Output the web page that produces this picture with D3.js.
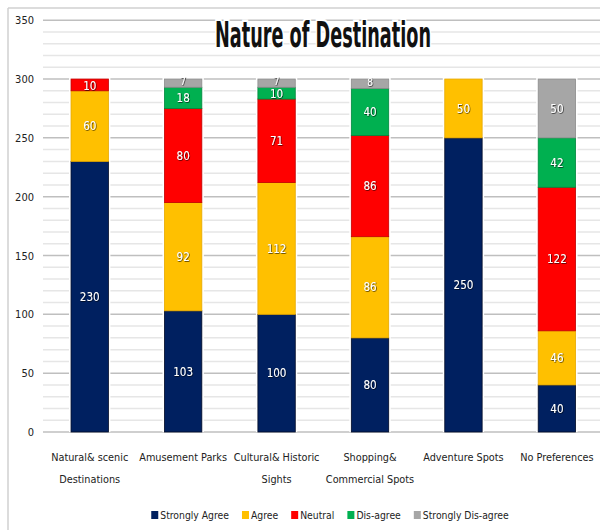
<!DOCTYPE html>
<html>
<head>
<meta charset="utf-8">
<script src="https://cdn.jsdelivr.net/npm/d3@7"></script>
<style>
  html, body { margin: 0; padding: 0; background: #fff; }
  svg { display: block; }
  text { font-family: 'DejaVu Sans Condensed', 'Liberation Sans', Arial, sans-serif; font-stretch: condensed; }
</style>
</head>
<body>
<div id="chart"></div>
<script>
  // data
  var categories = [
    ['Natural& scenic', 'Destinations'],
    ['Amusement Parks'],
    ['Cultural& Historic', 'Sights'],
    ['Shopping&', 'Commercial Spots'],
    ['Adventure Spots'],
    ['No Preferences']
  ];
  var seriesNames = ['Strongly Agree', 'Agree', 'Neutral', 'Dis-agree', 'Strongly Dis-agree'];
  var stronglyAgree = [230, 103, 100, 80, 250, 40];
  var agree = [60, 92, 112, 86, 50, 46];
  var neutral = [10, 80, 71, 86, 0, 122];
  var disagree = [0, 18, 10, 40, 0, 42];
  var stronglyDisagree = [0, 7, 7, 8, 0, 50];
  var yTicks = [0, 50, 100, 150, 200, 250, 300, 350];
  var colors = ['#002060', '#ffc000', '#ff0000', '#00b050', '#a6a6a6'];
  var edges = ['#000a26', '#e6a800', '#c00000', '#00873d', '#8c8c8c'];

  var W = 600, H = 530;
  var svg = d3.select('#chart').append('svg').attr('width', W).attr('height', H);

  var defs = svg.append('defs');
  var f = defs.append('filter').attr('id', 'shadow').attr('x', '-30%').attr('y', '-30%')
    .attr('width', '160%').attr('height', '160%');
  f.append('feDropShadow').attr('dx', 0.6).attr('dy', 0.6).attr('stdDeviation', 0.7)
    .attr('flood-color', '#000').attr('flood-opacity', 0.9);

  // outer frame
  svg.append('line').attr('x1', 8).attr('x2', 8).attr('y1', 8).attr('y2', H)
    .attr('stroke', '#d0d0d0').attr('stroke-width', 1.5);
  svg.append('line').attr('x1', 8).attr('x2', W).attr('y1', 8).attr('y2', 8)
    .attr('stroke', '#d0d0d0').attr('stroke-width', 1.5);

  var keys = categories.map(function (c) { return c.join(' '); });
  var rows = keys.map(function (k, i) {
    return {
      key: k,
      'Strongly Agree': stronglyAgree[i],
      'Agree': agree[i],
      'Neutral': neutral[i],
      'Dis-agree': disagree[i],
      'Strongly Dis-agree': stronglyDisagree[i]
    };
  });

  var x = d3.scaleBand().domain(keys).range([43, 603.6]).paddingInner(0.6).paddingOuter(0.3);
  var y = d3.scaleLinear().domain([0, 350]).range([432, 20.2]);

  // gridlines: minor every 10, major every 50
  var minor = d3.range(10, 351, 10).filter(function (v) { return v % 50 !== 0; });
  svg.append('g').selectAll('line').data(minor).join('line')
    .attr('x1', 43).attr('x2', W)
    .attr('y1', function (d) { return y(d); }).attr('y2', function (d) { return y(d); })
    .attr('stroke', '#e6e6e6').attr('stroke-width', 1.5);
  svg.append('g').selectAll('line').data(yTicks).join('line')
    .attr('x1', 43).attr('x2', W)
    .attr('y1', function (d) { return y(d); }).attr('y2', function (d) { return y(d); })
    .attr('stroke', '#bfbfbf').attr('stroke-width', 1.5);

  // y axis labels
  var yAxis = svg.append('g').attr('transform', 'translate(34,0)')
    .call(d3.axisLeft(y).tickValues(yTicks).tickSize(0).tickPadding(0));
  yAxis.select('.domain').remove();
  yAxis.selectAll('text').attr('font-size', '11px').attr('fill', '#222')
    .style('font-family', "'DejaVu Sans Condensed', 'Liberation Sans', Arial, sans-serif");

  var stack = d3.stack().keys(seriesNames)(rows);

  // white halo behind each bar (gridlines break at bars)
  svg.append('g').selectAll('rect').data(rows).join('rect')
    .attr('x', function (d) { return x(d.key) - 2; })
    .attr('width', x.bandwidth() + 4)
    .attr('y', y(300) - 1)
    .attr('height', y(0) - y(300) + 1)
    .attr('fill', '#fff');

  var layers = svg.append('g').selectAll('g').data(stack).join('g');
  layers.selectAll('rect')
    .data(function (s, si) { return s.map(function (d) { return { d: d, si: si }; }); })
    .join('rect')
    .attr('x', function (p) { return x(p.d.data.key); })
    .attr('width', x.bandwidth())
    .attr('y', function (p) { return y(p.d[1]); })
    .attr('height', function (p) { return y(p.d[0]) - y(p.d[1]); })
    .attr('fill', function (p) { return colors[p.si]; })
    .attr('stroke', function (p) { return p.d[1] - p.d[0] > 0 ? edges[p.si] : 'none'; })
    .attr('stroke-width', 0.8);

  // value labels (tiny top segments nudged up a little, as in the original)
  layers.selectAll('text')
    .data(function (s) { return s.filter(function (d) { return d[1] - d[0] > 0; }); })
    .join('text')
    .attr('x', function (d) { return x(d.data.key) + x.bandwidth() / 2; })
    .attr('y', function (d) {
      var mid = (y(d[0]) + y(d[1])) / 2;
      var v = d[1] - d[0];
      if (v < 10) return mid - 1.5;
      if (v <= 12) return mid + 1;
      return mid;
    })
    .attr('dy', '0.36em')
    .attr('text-anchor', 'middle')
    .attr('font-size', function (d) { return d[1] - d[0] < 10 ? '10px' : '11.5px'; })
    .attr('fill', '#fff')
    .attr('filter', 'url(#shadow)')
    .text(function (d) { return d[1] - d[0]; });

  // category labels
  var cat = svg.append('g').selectAll('text').data(categories).join('text')
    .attr('text-anchor', 'middle')
    .attr('font-size', '10.8px')
    .attr('fill', '#222')
    .attr('x', function (d) { return x(d.join(' ')) + x.bandwidth() / 2; })
    .attr('y', 461);
  cat.selectAll('tspan').data(function (d) { return d; }).join('tspan')
    .attr('x', function () { return d3.select(this.parentNode).attr('x'); })
    .attr('dy', function (d, i) { return i === 0 ? 0 : 22; })
    .text(function (d) { return d; });

  // title
  svg.append('text')
    .attr('x', 323).attr('y', 47)
    .attr('text-anchor', 'middle')
    .attr('font-size', '35px')
    .attr('font-weight', 'bold')
    .attr('fill', '#111')
    .attr('stroke', '#fff').attr('stroke-width', 5).attr('paint-order', 'stroke')
    .attr('textLength', 216).attr('lengthAdjust', 'spacingAndGlyphs')
    .text('Nature of Destination');

  // legend
  var legend = svg.append('g');
  var lx = 157;
  seriesNames.forEach(function (name, i) {
    var item = legend.append('g').attr('transform', 'translate(' + lx + ',515)');
    item.append('rect').attr('x', 0).attr('y', -4).attr('width', 7).attr('height', 8)
      .attr('fill', colors[i]);
    var t = item.append('text').attr('x', 9).attr('y', 0).attr('dy', '0.35em')
      .attr('font-size', '10.3px').attr('fill', '#222').text(name);
    lx += 9 + t.node().getComputedTextLength() + 13;
  });
  // centre the legend under the plot
  var lw = lx - 13 - 157;
  legend.attr('transform', 'translate(' + (330 - lw / 2 - 157) + ',0)');
</script>
</body>
</html>
